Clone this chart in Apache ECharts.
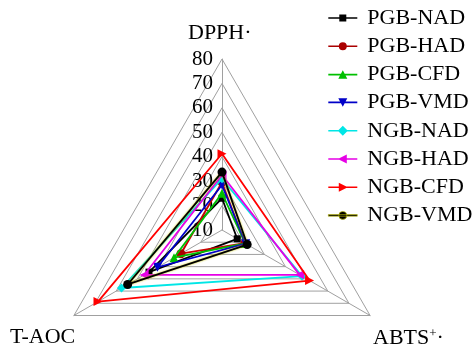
<!DOCTYPE html>
<html>
<head>
<meta charset="utf-8">
<script src="https://cdn.jsdelivr.net/npm/echarts@6/dist/echarts.min.js"></script>
<style>
  html, body { margin: 0; padding: 0; background: #fff; }
  #chart { width: 476px; height: 350px; }
</style>
</head>
<body>
<div id="chart"></div>
<script>
// Radar axes in ECharts order (counter-clockwise from the top)
const indicators = ['DPPH·', 'T-AOC', 'ABTS+·'];
const axisMin = 10;
const axisMax = 80;
const tickLabels = [10, 20, 30, 40, 50, 60, 70, 80];

// Series names and their values on [DPPH·, T-AOC, ABTS+·]
const seriesNames = ['PGB-NAD', 'PGB-HAD', 'PGB-CFD', 'PGB-VMD', 'NGB-NAD', 'NGB-HAD', 'NGB-CFD', 'NGB-VMD'];
const pgbNad = [23.0, 44.5, 17.2];
const pgbHad = [29.5, 29.4, 20.8];
const pgbCfd = [25.0, 32.7, 21.0];
const pgbVmd = [28.4, 40.5, 21.2];
const ngbNad = [31.0, 57.5, 47.8];
const ngbHad = [32.5, 46.8, 46.7];
const ngbCfd = [41.2, 68.6, 51.4];
const ngbVmd = [33.7, 54.6, 21.9];
const seriesValues = [pgbNad, pgbHad, pgbCfd, pgbVmd, ngbNad, ngbHad, ngbCfd, ngbVmd];

const FONT = 'Liberation Serif, Times New Roman, serif';

// Per-series look: colour, marker, marker rotation, legend marker path
// (legend marker paths run clockwise, like the line bar, so they stay filled)
const looks = [
  { color: '#000000', symbol: 'rect', rot: 0, mark: 'M11,1.5H18V8.5H11Z' },
  { color: '#cc0000', symbol: 'circle', rot: 0, mark: 'M10.5,5A4,4 0 1,1 18.5,5A4,4 0 1,1 10.5,5Z', marker: '#aa0000' },
  { color: '#00c000', symbol: 'triangle', rot: 0, mark: 'M14.5,0.5L19,9H10Z' },
  { color: '#0000c8', symbol: 'triangle', rot: 180, mark: 'M10,1H19L14.5,9.5Z' },
  { color: '#00e6e6', symbol: 'diamond', rot: 0, mark: 'M14.5,0L19.5,5L14.5,10L9.5,5Z' },
  { color: '#e600e6', symbol: 'triangle', rot: 90, mark: 'M9.5,5L18.5,0.5V9.5Z' },
  { color: '#ff0000', symbol: 'triangle', rot: -90, mark: 'M19.5,5L10.5,9.5V0.5Z' },
  { color: '#000000', symbol: 'circle', rot: 0, mark: 'M10.5,5A4,4 0 1,1 18.5,5A4,4 0 1,1 10.5,5Z', glow: '#c8c800' }
];

const lineBar = 'M0,4.2H29V5.8H0Z ';

const chart = echarts.init(document.getElementById('chart'), null, { renderer: 'canvas' });

const series = seriesNames.map((name, i) => {
  const lk = looks[i];
  return {
    type: 'radar',
    name: name,
    symbol: lk.symbol,
    symbolRotate: lk.rot,
    symbolSize: lk.symbol === 'rect' ? 7 : 9,
    lineStyle: Object.assign(
      { color: lk.color, width: 1.8, type: 'solid' },
      lk.glow ? { shadowColor: lk.glow, shadowBlur: 2 } : {}
    ),
    itemStyle: { color: lk.marker || lk.color, borderWidth: 0, opacity: 1 },
    z: 2 + i,
    data: [{ value: seriesValues[i], name: name }]
  };
});

const option = {
  animation: false,
  backgroundColor: '#ffffff',
  legend: {
    orient: 'vertical',
    left: 323,
    top: 2,
    itemWidth: 29,
    itemHeight: 10,
    itemGap: 6.2,
    textStyle: { fontFamily: FONT, fontSize: 22, color: '#000', padding: [0, 0, 0, 5] },
    data: seriesNames.map((name, i) => ({
      name: name,
      icon: 'path://' + lineBar + looks[i].mark,
      itemStyle: Object.assign(
        { color: looks[i].marker || looks[i].color, borderWidth: 0, opacity: 1 },
        looks[i].glow ? { borderColor: looks[i].glow, borderWidth: 0.6 } : {}
      )
    }))
  },
  radar: {
    center: [222, 230],
    radius: 171,
    startAngle: 90,
    shape: 'polygon',
    splitNumber: tickLabels.length - 1,
    indicator: indicators.map(n => ({ name: n, min: axisMin, max: axisMax })),
    axisName: { show: false },
    axisLine: { lineStyle: { color: '#a0a0a0', width: 1 } },
    splitLine: { lineStyle: { color: '#a0a0a0', width: 1 } },
    splitArea: { show: false },
    axisTick: { show: false },
    axisLabel: { show: false }
  },
  // Value labels along the DPPH· axis
  grid: { left: 222, top: 59, width: 10, height: 171 },
  xAxis: { type: 'value', show: false },
  yAxis: {
    type: 'value',
    min: axisMin,
    max: axisMax,
    interval: 10,
    axisLine: { show: false },
    axisTick: { show: false },
    splitLine: { show: false },
    axisLabel: {
      margin: 9,
      fontFamily: FONT,
      fontSize: 21,
      color: '#000',
      formatter: v => (tickLabels.indexOf(v) >= 0 ? String(v) : '')
    }
  },
  graphic: [
    {
      type: 'text', left: 188, top: 22,
      style: { text: 'DPPH·', font: '22px ' + FONT, fill: '#000' }
    },
    {
      type: 'text', left: 373, top: 327,
      style: {
        text: '{b|ABTS}{s|+}{d|·}',
        rich: {
          b: { font: '22px ' + FONT, fill: '#000', verticalAlign: 'bottom' },
          s: { font: '13px ' + FONT, fill: '#000', verticalAlign: 'top', padding: [0, 0, 8, 0] },
          d: { font: '22px ' + FONT, fill: '#000' }
        }
      }
    },
    {
      type: 'text', left: 10, top: 326,
      style: { text: 'T-AOC', font: '22px ' + FONT, fill: '#000' }
    }
  ],
  series: series
};

chart.setOption(option);
</script>
</body>
</html>
